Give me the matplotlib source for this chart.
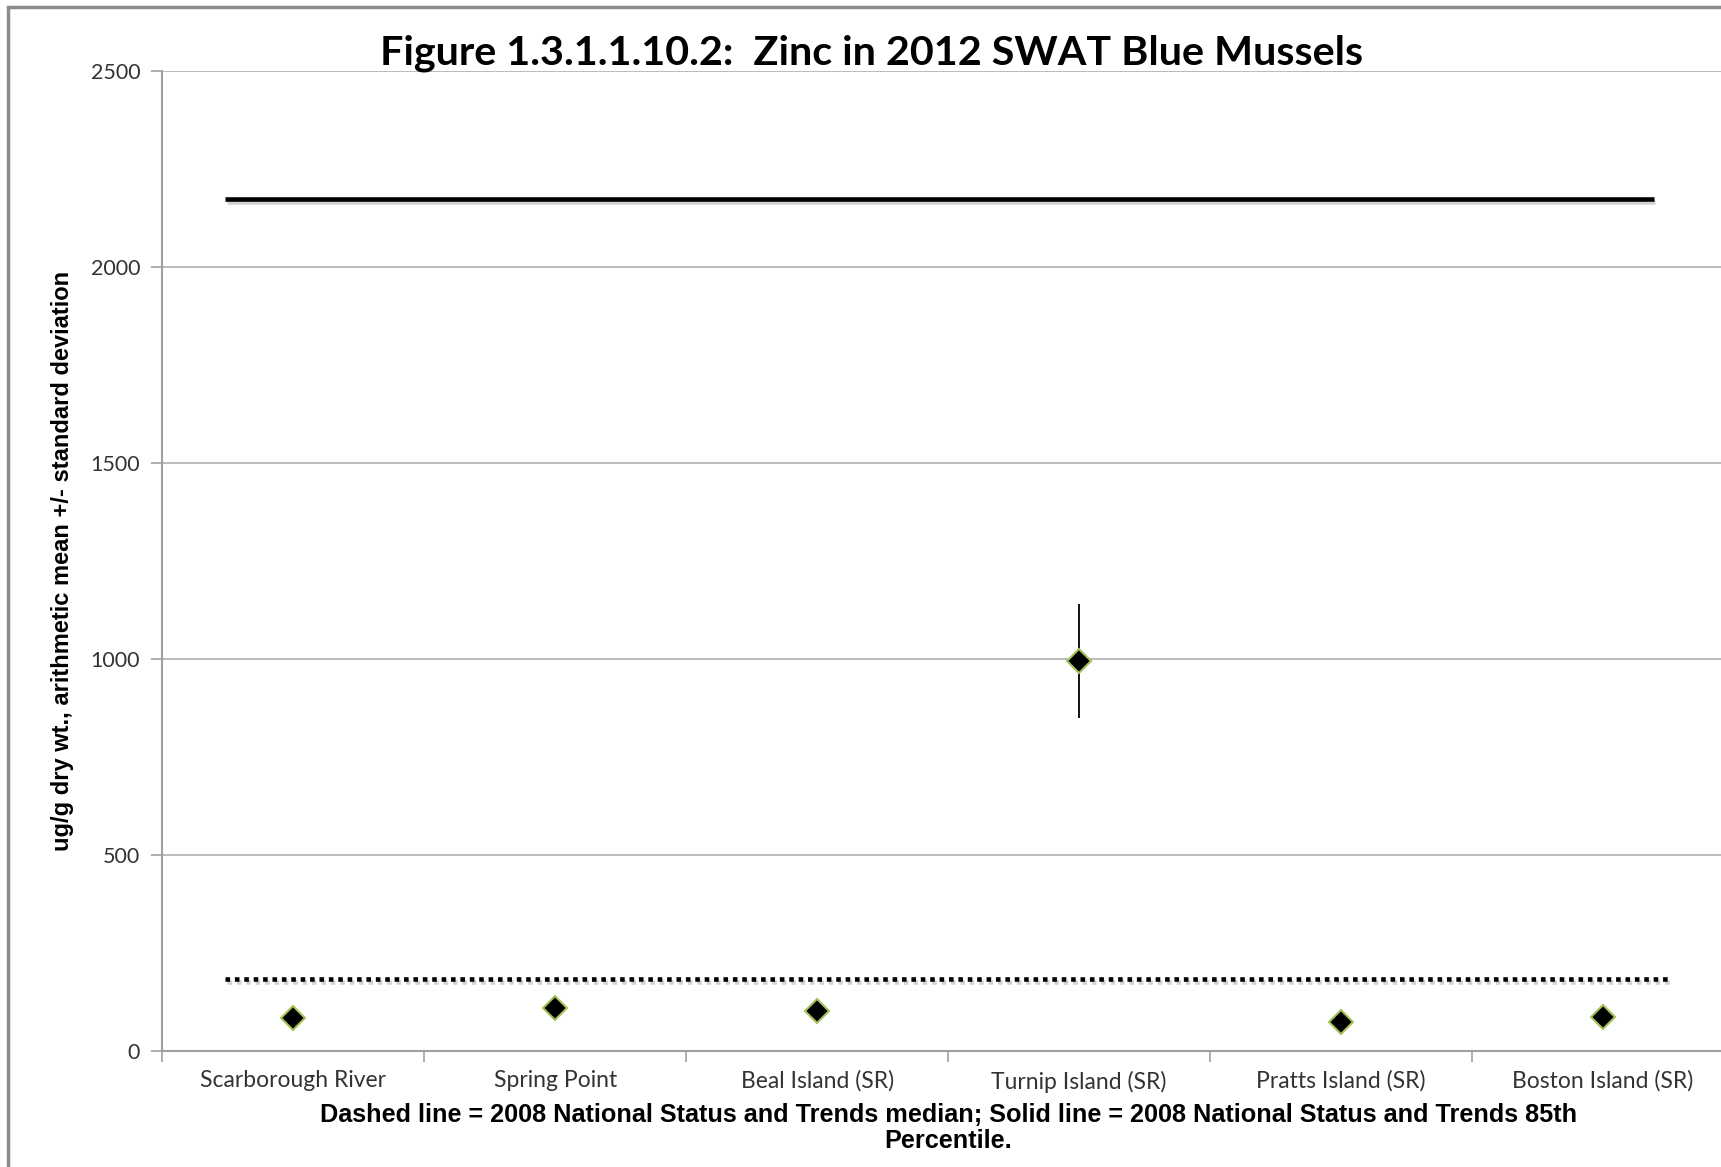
import numpy as np
import matplotlib.pyplot as plt
from matplotlib.patches import Rectangle
import matplotlib.patheffects as pe

sites = ['Scarborough River', 'Spring Point', 'Beal Island (SR)',
         'Turnip Island (SR)', 'Pratts Island (SR)', 'Boston Island (SR)']
zinc_mean = [84, 109, 103, 995, 75, 87]
zinc_sd = [0, 0, 0, 145, 0, 0]
nsandt_median = 184
nsandt_85th = 2174

fig = plt.figure(figsize=(17.21, 11.67), dpi=100)
ax = fig.add_axes([0.0944, 0.0994, 0.913, 0.8398])

x = np.arange(len(sites))

# reference lines (with soft shadow like the original)
shadow = [pe.SimpleLineShadow(offset=(1, -2), shadow_color='gray', alpha=0.35), pe.Normal()]
ax.plot([-0.26, 5.195], [nsandt_85th, nsandt_85th], color='black', lw=3.3,
        solid_capstyle='butt', path_effects=shadow, zorder=3)
ax.plot([-0.26, 5.256], [nsandt_median, nsandt_median], color='black', lw=3.3,
        dashes=(1, 1.05), dash_capstyle='butt', path_effects=shadow, zorder=3)

ax.errorbar(x, zinc_mean, yerr=zinc_sd, fmt='none', ecolor='black', elinewidth=1.3, capsize=0, zorder=4)
ax.plot(x, zinc_mean, linestyle='none', marker='D', markersize=12,
        markerfacecolor='black', markeredgecolor='#a4c257', markeredgewidth=1.5, zorder=5)

ax.set_xlim(-0.5, 5.5)
ax.set_ylim(0, 2500)
ax.set_yticks([0, 500, 1000, 1500, 2000, 2500])
ax.set_xticks(x)
ax.set_xticklabels(sites)
ax.set_xticks(np.arange(-0.5, 6.0, 1.0), minor=True)
ax.tick_params(axis='x', which='major', length=0, pad=14, labelsize=16.5, labelcolor='#333333')
ax.tick_params(axis='x', which='minor', length=8, color='#a0a0a0', width=1.2)
ax.tick_params(axis='y', length=8, color='#a0a0a0', width=1.2, pad=8, labelsize=15.5, labelcolor='#333333')
for lab in ax.get_xticklabels() + ax.get_yticklabels():
    lab.set_family('Lato')

ax.grid(axis='y', color='#a8a8a8', lw=1.1)
ax.set_axisbelow(True)
for s in ['top', 'right']:
    ax.spines[s].set_visible(False)
for s in ['left', 'bottom']:
    ax.spines[s].set_color('#a0a0a0')
    ax.spines[s].set_linewidth(1.5)

ax.set_ylabel('ug/g dry wt., arithmetic mean +/- standard deviation', family='Liberation Sans',
              fontweight='bold', fontsize=17, labelpad=12)
fig.text(0.551, 0.0334, 'Dashed line = 2008 National Status and Trends median; Solid line = 2008 National Status and Trends 85th\nPercentile.',
         ha='center', va='center', family='Liberation Sans', fontweight='bold', fontsize=18.2,
         linespacing=1.1)
fig.text(0.5065, 0.9545, 'Figure 1.3.1.1.10.2:  Zinc in 2012 SWAT Blue Mussels', ha='center', va='center',
         family='Lato', fontweight='bold', fontsize=29.7)

# chart border
fig.patches.append(Rectangle((0.0045, -0.1), 1.2, 1.094, transform=fig.transFigure,
                             fill=False, edgecolor='#8c8c8c', lw=2.5))

fig.savefig('out.png', dpi=100)
